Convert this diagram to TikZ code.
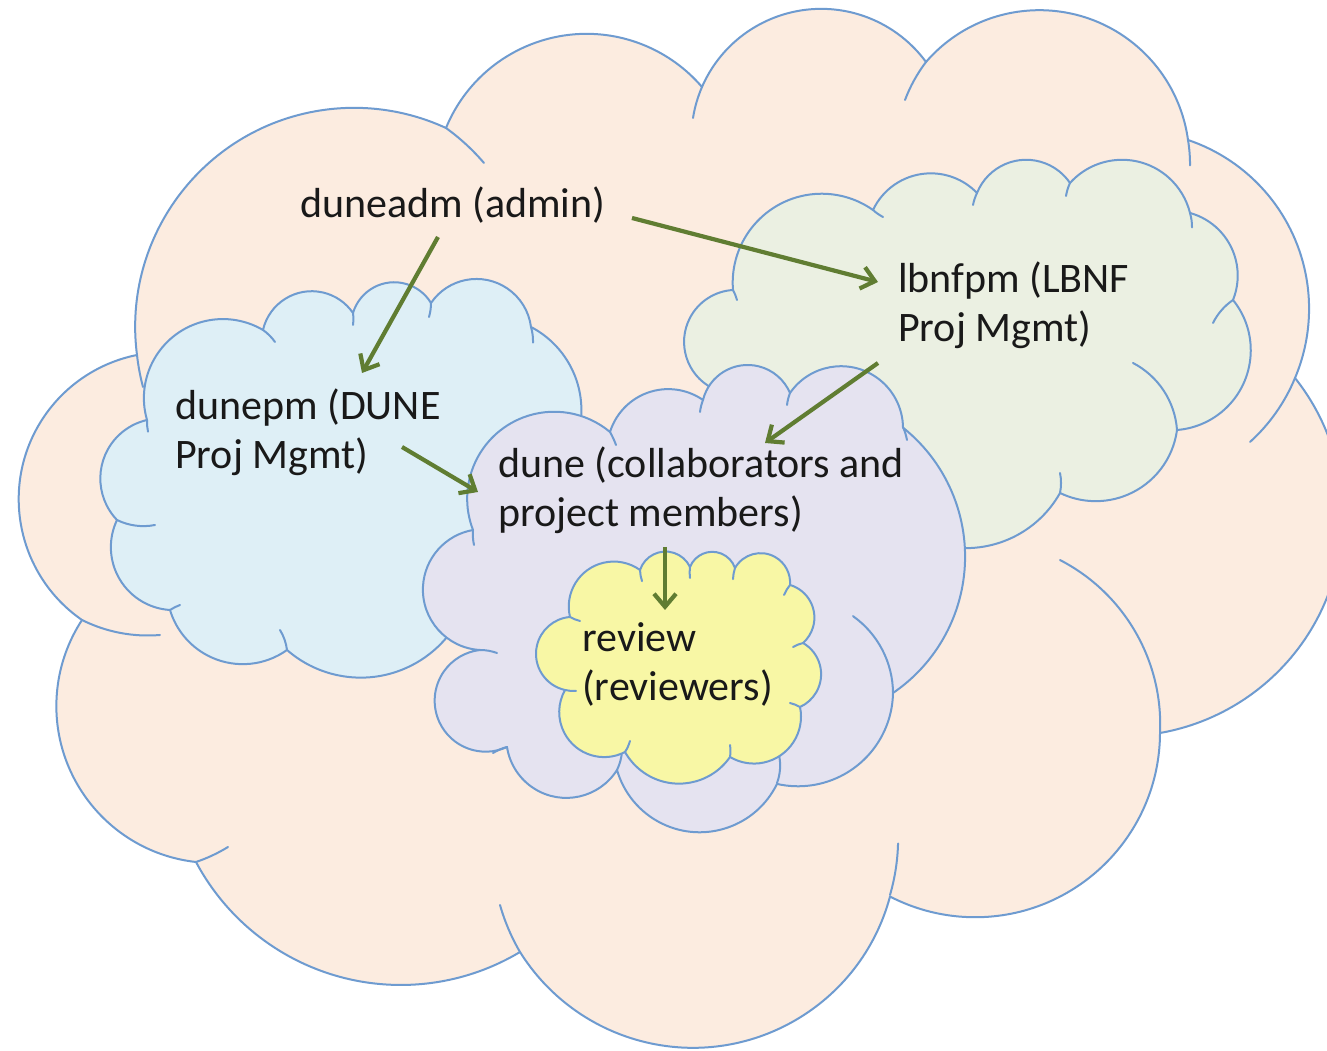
\documentclass[tikz,border=0pt]{standalone}
\usepackage{fontspec}
\setmainfont{Carlito}
\usetikzlibrary{svg.path,arrows.meta}
\definecolor{peach}{RGB}{252,236,224}
\definecolor{skyb}{RGB}{222,239,246}
\definecolor{sage}{RGB}{235,240,226}
\definecolor{lav}{RGB}{229,227,240}
\definecolor{lemon}{RGB}{248,247,165}
\definecolor{edgeblue}{RGB}{110,155,208}
\definecolor{arrowgreen}{RGB}{96,125,50}
\definecolor{txt}{RGB}{25,25,25}
\newcommand{\lbl}[1]{\begin{tabular}[t]{@{}l@{}}#1\end{tabular}}
\begin{document}
\begin{tikzpicture}[x=1pt,y=1pt,
  cloud/.style={draw=edgeblue, line width=2pt, line join=round},
  innerarc/.style={draw=edgeblue, line width=2pt, line cap=round},
  lab/.style={anchor=base west, inner sep=0pt, text=txt, font=\fontsize{42}{49}\selectfont},
  arr/.style={draw=arrowgreen, line width=4.2pt, -{Straight Barb[length=13pt,width=22pt]}}]
\useasboundingbox (0,0) rectangle (1327,1051);
\fill[white] (0,0) rectangle (1327,1051);
% big cloud
\path[cloud, fill=peach] svg{M 137 696
 A 219 219 0 0 0 446 923
 A 152 152 0 0 0 702 964
 A 130 130 0 0 0 926 989
 A 150 150 0 0 0 1188 911
 A 178 178 0 0 0 1295 673
 A 221 221 0 0 0 1160 318
 A 185 185 0 0 0 890 156
 A 204 204 0 0 0 520 99
 A 232 232 0 0 0 196 189
 A 157 157 0 0 0 82 431
 A 147 147 0 0 0 137 696 Z};
\path[innerarc] svg{M 137 696 A 219 219 0 0 1 143 664
 M 446 923 A 219 219 0 0 0 484 888
 M 702 964 A 130 130 0 0 1 693 933
 M 926 989 A 150 150 0 0 1 905 951
 M 1188 911 A 150 150 0 0 0 1190 884
 M 1295 673 A 178 178 0 0 0 1250 609
 M 1160 318 A 185 185 0 0 1 1060 491
 M 890 156 A 204 204 0 0 1 898 206
 M 520 99 A 204 204 0 0 0 500 146
 M 196 189 A 157 157 0 0 1 228 204
 M 82 431 A 147 147 0 0 1 160 416};
% blue cloud
\path[cloud, fill=skyb] svg{M 147 631
 A 79 79 0 0 0 263 721
 A 50 50 0 0 0 353 738
 A 43 43 0 0 0 431 748
 A 55 55 0 0 0 531 724
 A 94 94 0 0 0 560 581
 A 100 100 0 0 0 470 461
 A 112 112 0 0 0 287 401
 A 76 76 0 0 0 170 441
 A 63 63 0 0 0 117 531
 A 60 60 0 0 0 147 631 Z};
\path[innerarc] svg{M 147 631 A 50 50 0 0 1 148 619
 M 263 721 A 50 50 0 0 0 275 709
 M 353 738 A 50 50 0 0 0 353 726
 M 431 748 A 50 50 0 0 0 429 734
 M 531 724 A 50 50 0 0 0 533 708
 M 117 531 A 60 60 0 0 1 155 526
 M 170 441 A 50 50 0 0 0 180 446
 M 287 401 A 50 50 0 0 1 280 421};
% green cloud
\path[cloud, fill=sage] svg{M 733 761
 A 89 89 0 0 0 873 841
 A 64 64 0 0 0 977 858
 A 53 53 0 0 0 1070 868
 A 70 70 0 0 0 1190 838
 A 65 65 0 0 0 1233 751
 A 80 80 0 0 0 1177 621
 A 82 82 0 0 0 1060 558
 A 108 108 0 0 0 940 506
 A 190 190 0 0 0 712 663
 A 52 52 0 0 0 733 761 Z};
\path[innerarc] svg{M 733 761 A 50 50 0 0 0 737 751
 M 873 841 A 50 50 0 0 1 883 834
 M 977 858 A 50 50 0 0 1 973 846
 M 1070 868 A 50 50 0 0 1 1066 855
 M 1190 838 A 50 50 0 0 0 1192 823
 M 1233 751 A 60 60 0 0 1 1213 728
 M 1177 621 A 82 82 0 0 1 1133 688
 M 1060 558 A 50 50 0 0 1 1060 578};
% lavender cloud
\path[cloud, fill=lav] svg{M 473 521
 A 87 87 0 0 0 610 619
 A 61 61 0 0 0 703 651
 A 46 46 0 0 0 790 658
 A 62 62 0 0 0 903 624
 A 165 165 0 0 0 893 358
 A 95 95 0 0 0 777 268
 A 86 86 0 0 0 617 281
 A 60 60 0 0 0 507 304
 A 51 51 0 1 0 480 401
 A 60.5 60.5 0 0 0 473 521 Z};
\path[innerarc] svg{M 473 521 A 50 50 0 0 1 474 506
 M 610 619 A 87 87 0 0 0 616 606
 M 703 651 A 50 50 0 0 1 700 639
 M 790 658 A 50 50 0 0 1 787 646
 M 903 624 A 62 62 0 0 0 907 611
 M 893 358 A 95 95 0 0 1 853 434
 M 777 268 A 50 50 0 0 1 779 296
 M 617 281 A 50 50 0 0 1 622 300
 M 507 304 A 50 50 0 0 1 493 298
 M 480 401 A 50 50 0 0 0 497 398};
% yellow cloud
\path[cloud, fill=lemon] svg{M 570 434
 A 45 45 0 0 0 640 481
 A 27 27 0 0 0 690 484
 A 24 24 0 0 0 735 483
 A 29.5 29.5 0 0 0 790 466
 A 34 34 0 0 0 803 408
 A 36 36 0 0 0 800 344
 A 47 47 0 0 0 730 294
 A 62 62 0 0 0 625 299
 A 45 45 0 0 0 565 361
 A 37 37 0 0 0 570 434 Z};
\path[innerarc] svg{M 570 434 A 40 40 0 0 1 580 430
 M 640 481 A 40 40 0 0 1 642 470
 M 690 484 A 40 40 0 0 1 690 473
 M 735 483 A 40 40 0 0 1 733 472
 M 790 466 A 40 40 0 0 1 784 456
 M 803 408 A 40 40 0 0 1 793 404
 M 800 344 A 40 40 0 0 1 790 348
 M 730 294 A 40 40 0 0 1 730 306
 M 625 299 A 40 40 0 0 1 630 310
 M 565 361 A 40 40 0 0 1 576 360};
% labels
\node[lab] (adm) at (300,833) {duneadm (admin)};
\node[lab] (epm) at (175,631) {\lbl{dunepm (DUNE\\Proj Mgmt)}};
\node[lab] (lpm) at (898,758) {\lbl{lbnfpm (LBNF\\Proj Mgmt)}};
\node[lab] (dune) at (498,573) {\lbl{dune (collaborators and\\project members)}};
\node[lab] (rev) at (582,399) {\lbl{review\\(reviewers)}};
% arrow end points
\coordinate (a1s) at (438,814); \coordinate (a1e) at (362,678);
\coordinate (a2s) at (632,833); \coordinate (a2e) at (878,769);
\coordinate (a3s) at (402,604); \coordinate (a3e) at (478,559);
\coordinate (a4s) at (878,688); \coordinate (a4e) at (765,608);
\coordinate (a5s) at (665,504); \coordinate (a5e) at (665,441);
\draw[arr] (a1s) -- (a1e);
\draw[arr] (a2s) -- (a2e);
\draw[arr] (a3s) -- (a3e);
\draw[arr] (a4s) -- (a4e);
\draw[arr] (a5s) -- (a5e);
\end{tikzpicture}
\end{document}
